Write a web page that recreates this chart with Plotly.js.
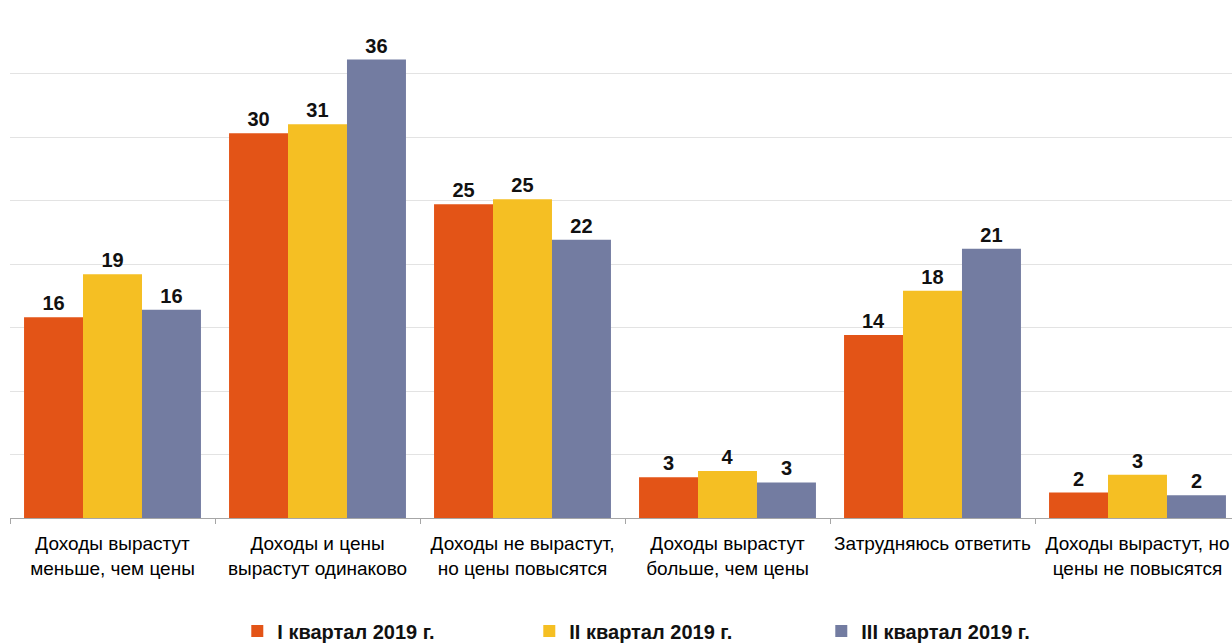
<!DOCTYPE html>
<html>
<head>
<meta charset="utf-8">
<script src="https://cdn.plot.ly/plotly-3.0.1.min.js"></script>
<style>
html,body{margin:0;padding:0;background:#fff;}
#chart{width:1232px;height:644px;}
</style>
</head>
<body>
<div id="chart"></div>
<script>
const categories = [
  "Доходы вырастут<br>меньше, чем цены",
  "Доходы и цены<br>вырастут одинаково",
  "Доходы не вырастут,<br>но цены повысятся",
  "Доходы вырастут<br>больше, чем цены",
  "Затрудняюсь ответить",
  "Доходы вырастут, но<br>цены не повысятся"
];
const seriesNames = ["I квартал 2019 г.", "II квартал 2019 г.", "III квартал 2019 г."];
const q1 = [15.8, 30.3, 24.7, 3.2, 14.4, 2.0];
const q2 = [19.2, 31.0, 25.1, 3.7, 17.9, 3.4];
const q3 = [16.4, 36.1, 21.9, 2.8, 21.2, 1.8];
const colors = ["#E35417", "#F5BF23", "#737CA1"];

const boldFont = "Liberation Sans Narrow, Arial Narrow, Liberation Sans, Arial, sans-serif";
const series = [q1, q2, q3];
const traces = series.map((vals, i) => ({
  type: "bar",
  name: seriesNames[i],
  x: categories,
  y: vals,
  marker: {color: colors[i]},
  texttemplate: "%{y:.0f}",
  textposition: "outside",
  cliponaxis: false,
  textfont: {family: boldFont, size: 20, color: "#111", weight: "bold"},
  hoverinfo: "skip"
}));

const layout = {
  width: 1232, height: 644,
  margin: {l: 10, r: 0, t: 10, b: 125.5, autoexpand: false},
  paper_bgcolor: "#fff", plot_bgcolor: "#fff",
  barmode: "group",
  bargap: 0.137,
  bargroupgap: 0,
  showlegend: true,
  legend: {
    orientation: "h",
    x: 0.186, xanchor: "left",
    y: -0.184, yanchor: "top",
    entrywidth: 247, entrywidthmode: "pixels",
    font: {family: boldFont, size: 20, color: "#111", weight: "bold"},
    itemwidth: 30
  },
  xaxis: {
    type: "category",
    range: [-0.5, 5.461],
    automargin: false,
    tickangle: 0,
    showline: true, linecolor: "#A6A6A6", linewidth: 1,
    ticks: "outside", tickson: "boundaries", ticklen: 5, tickcolor: "#A6A6A6",
    tickfont: {family: "Liberation Sans, Arial, sans-serif", size: 19, color: "#000"},
    ticklabelstandoff: 8,
    showgrid: false, zeroline: false, fixedrange: true
  },
  yaxis: {
    range: [0, 40],
    dtick: 5,
    automargin: false,
    showticklabels: false,
    showgrid: true, gridcolor: "#E3E3E3", gridwidth: 1,
    zeroline: false, showline: false, fixedrange: true
  }
};

Plotly.newPlot("chart", traces, layout, {displayModeBar: false, staticPlot: true});
</script>
</body>
</html>
